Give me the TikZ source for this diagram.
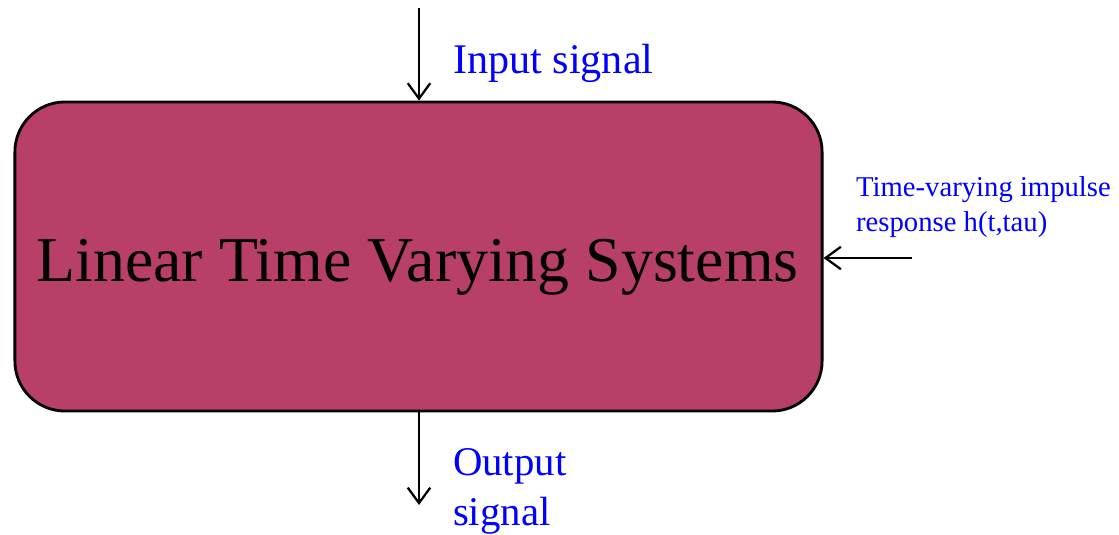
\documentclass[tikz,border=0pt]{standalone}
\usepackage{fontspec}
\setmainfont{Liberation Serif}
\usetikzlibrary{arrows.meta}
\definecolor{ltvred}{RGB}{184,63,104}
\tikzset{
  sysbox/.style={draw, line width=2pt, fill=ltvred, rounded corners=1.25cm,
    minimum width=20.175cm, minimum height=7.725cm, inner sep=0pt},
  systext/.style={inner sep=0pt, font=\fontsize{45.4}{50}\selectfont},
  sigtext/.style={text=blue, inner sep=0pt, align=left}
}
\begin{document}
\begin{tikzpicture}[x=0.025cm, y=-0.025cm, >={Straight Barb[length=11pt, width=16pt, line width=1.6pt]}, line width=1.6pt]
  \useasboundingbox (0,0) rectangle (1119,534);
  \node[sysbox] (ltv) at (418.5,256.5) {};
  \node[systext, anchor=base] (ltvtext) at (417.5,281) {Linear Time Varying Systems};
  \coordinate (in) at (419,8);
  \coordinate (out) at (419,505);
  \coordinate (h) at (912,258);
  \draw[->] (in) -- (in |- ltv.north);
  \draw[->] (out |- ltv.south) -- (out);
  \draw[->] (h) -- (ltv.east |- h);

  \node[sigtext, anchor=base west, font=\fontsize{30}{36}\selectfont] (inlbl) at (452,73) {Input signal};
  \node[sigtext, anchor=north west, font=\fontsize{29}{35.5}\selectfont] (outlbl) at (452,447) {Output\\signal};
  \node[sigtext, anchor=north west, font=\fontsize{20.4}{25}\selectfont] (hlbl) at (855,175) {Time-varying impulse\\response h(t,tau)};
\end{tikzpicture}
\end{document}
